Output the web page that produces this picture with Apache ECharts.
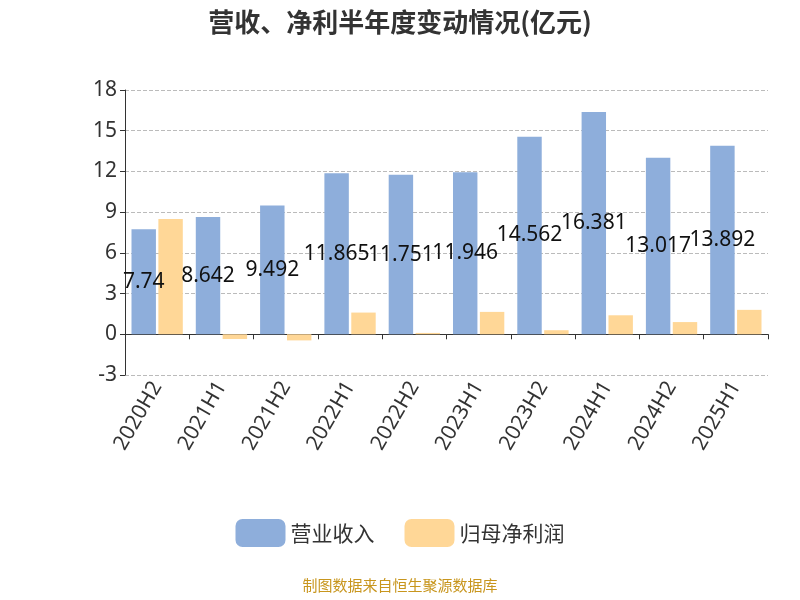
<!DOCTYPE html>
<html><head><meta charset="utf-8">
<script src="https://cdn.jsdelivr.net/npm/echarts@6/dist/echarts.min.js"></script>
<style>html,body{margin:0;padding:0}#c{width:800px;height:600px}</style>
</head><body><div id="c"></div>
<script>
const categories = ['2020H2','2021H1','2021H2','2022H1','2022H2','2023H1','2023H2','2024H1','2024H2','2025H1'];
const revenue = [7.74, 8.642, 9.492, 11.865, 11.751, 11.946, 14.562, 16.381, 13.017, 13.892];
const netProfit = [8.5, -0.35, -0.45, 1.6, 0.1, 1.65, 0.3, 1.4, 0.9, 1.8];
const chart = echarts.init(document.getElementById('c'));
chart.setOption({
  textStyle: {fontFamily: 'Noto Sans, Noto Sans CJK SC'},
  title: {text: '营收、净利半年度变动情况(亿元)', left: 'center', top: 4,
    textStyle: {fontSize: 26, fontWeight: 'bold', color: '#333', fontFamily: 'Noto Sans CJK SC'}},
  graphic: [{type: 'text', left: 'center', top: 578,
    style: {text: '制图数据来自恒生聚源数据库', fill: '#c8961e', fontSize: 15, fontFamily: 'Noto Sans CJK SC'}}],
  legend: {bottom: 48, itemWidth: 50, itemHeight: 28, itemGap: 30,
    textStyle: {fontSize: 21, color: '#333', fontFamily: 'Noto Sans CJK SC'},
    data: ['营业收入', '归母净利润']},
  grid: {left: 125, right: 32, top: 90, bottom: 225},
  xAxis: {type: 'category', data: categories,
    axisLine: {lineStyle: {color: '#333'}},
    axisTick: {show: true, lineStyle: {color: '#333'}},
    axisLabel: {rotate: 60, fontSize: 21, color: '#333', interval: 0, fontFamily: 'Noto Sans'}},
  yAxis: {type: 'value', min: -3, max: 18, interval: 3,
    axisLine: {show: true, lineStyle: {color: '#333'}},
    axisTick: {show: true},
    axisLabel: {fontSize: 21, color: '#333', fontFamily: 'Noto Sans'},
    splitLine: {lineStyle: {type: 'dashed', color: '#bbb'}}},
  series: [
    {name: '营业收入', type: 'bar', data: revenue, barWidth: '38%', barGap: '10%',
      itemStyle: {color: '#8eaedb'},
      label: {show: true, position: 'inside', fontSize: 21, color: '#111', fontFamily: 'Noto Sans'}},
    {name: '归母净利润', type: 'bar', data: netProfit, barWidth: '38%',
      itemStyle: {color: '#ffd797'}}
  ]
});
</script></body></html>
